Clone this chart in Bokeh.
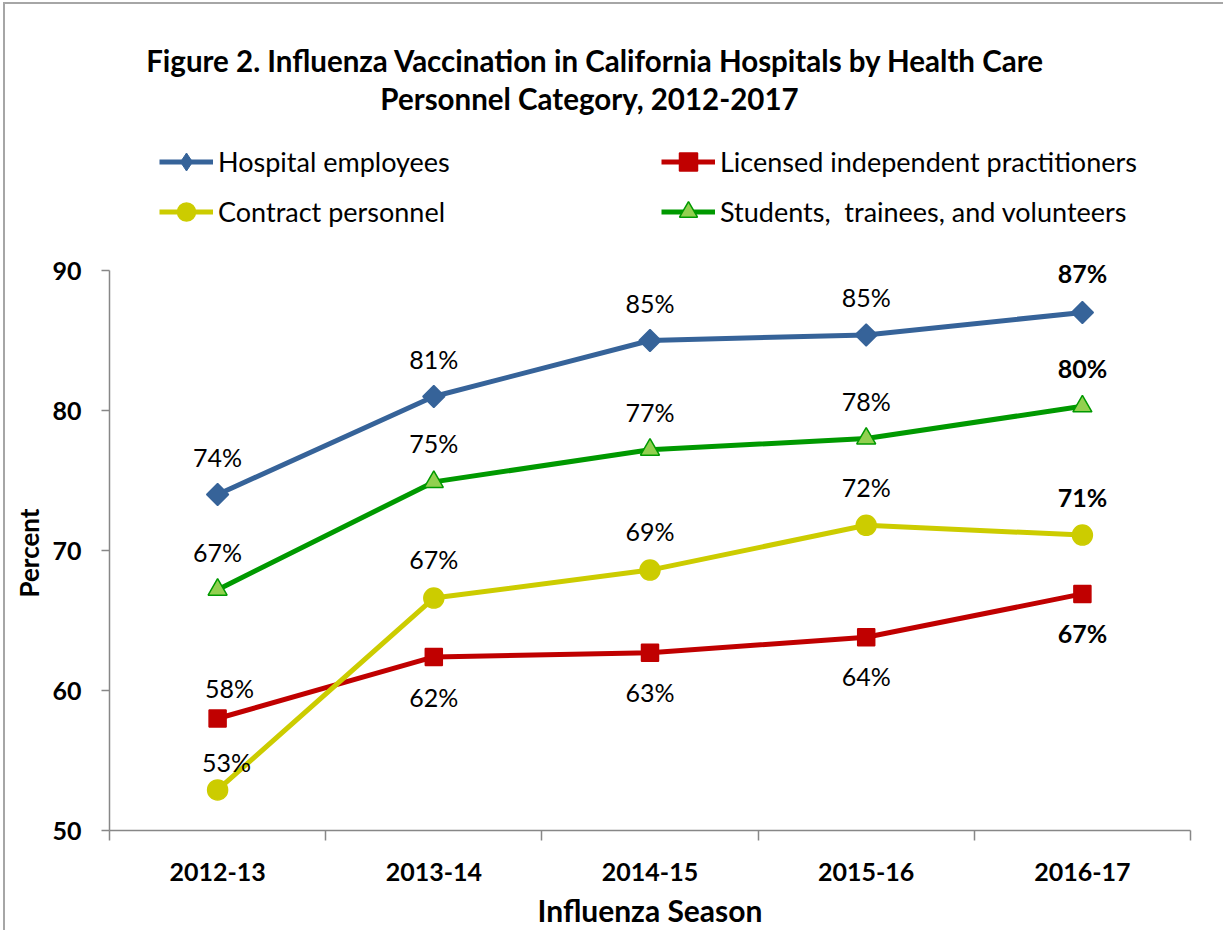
from bokeh.plotting import figure
from bokeh.models import (ColumnDataSource, LabelSet, Label, Legend, LegendItem,
                          FixedTicker, Range1d, Title)
from bokeh.core.properties import value
from bokeh.embed import file_html
from bokeh.resources import INLINE
import numpy as np

# ---- data ----
seasons = ["2012-13", "2013-14", "2014-15", "2015-16", "2016-17"]
hospital_employees = [74.0, 81.0, 85.0, 85.4, 87.0]
licensed_practitioners = [58.0, 62.4, 62.7, 63.8, 66.9]
contract_personnel = [52.9, 66.6, 68.6, 71.8, 71.1]
students_volunteers = [67.2, 74.9, 77.2, 78.0, 80.3]
series_names = ["Hospital employees", "Licensed independent practitioners",
                "Contract personnel", "Students,  trainees, and volunteers"]
y_ticks = [50, 60, 70, 80, 90]
title_lines = ["Figure 2. Influenza Vaccination in California Hospitals by Health Care",
               "Personnel Category, 2012-2017"]

# ---- styles ----
FONT = "Lato"
GRAY = "#878787"
colors = ["#366399", "#C00000", "#CCCC00", "#009900"]
fills = ["#366399", "#C00000", "#CCCC00", "#92D050"]
markers = ["square", "square", "circle", "triangle"]
angles = [np.pi / 4, 0, 0, 0]
sizes = [15.5, 17, 20, 19]
# label offsets in px (y: + = above)
label_y_offsets = [
    [38, 38, 38, 38, 40],
    [31, -40, -39, -39, -39],
    [28, 39, 39, 38, 38],
    [38, 39, 38, 38, 38],
]
label_x_offsets = [
    [0, 0, 0, 0, 0],
    [12, 0, 0, 0, 0],
    [9, 0, 0, 0, 0],
    [0, 0, 0, 0, 0],
]

xs = list(range(len(seasons)))
PX_PER_UNIT = 14.0
FRAME_TOP_PAD = 246  # px of frame above the 90 tick (room for title/legend)

p = figure(width=1220, height=928, output_backend="svg", toolbar_location=None,
           x_range=Range1d(-0.5, len(seasons) - 0.5),
           y_range=Range1d(y_ticks[0], y_ticks[-1] + FRAME_TOP_PAD / PX_PER_UNIT),
           min_border_left=103, min_border_right=35, min_border_top=20, min_border_bottom=102)
p.outline_line_color = None
p.xgrid.visible = False
p.ygrid.visible = False
p.title.visible = False
p.styles = {"border-left": "2px solid #a6a6a6", "border-top": "2px solid #a6a6a6",
            "margin-left": "3px", "margin-top": "2px"}

# axes
xa = p.xaxis[0]
xa.ticker = FixedTicker(ticks=xs, minor_ticks=[i - 0.5 for i in range(len(seasons) + 1)])
xa.major_label_overrides = {i: s for i, s in enumerate(seasons)}
xa.major_tick_out = 0
xa.major_tick_in = 0
xa.minor_tick_out = 10
xa.minor_tick_in = 0
xa.minor_tick_line_color = GRAY
xa.minor_tick_line_width = 1.5
xa.axis_line_color = GRAY
xa.axis_line_width = 1.5
xa.major_label_text_font = FONT
xa.major_label_text_font_style = "bold"
xa.major_label_text_font_size = "25px"
xa.major_label_text_color = "black"
xa.major_label_standoff = 22
xa.axis_label = "Influenza Season"
xa.axis_label_text_font = FONT
xa.axis_label_text_font_style = "bold"
xa.axis_label_text_font_size = "30px"
xa.axis_label_text_color = "black"
xa.axis_label_standoff = 8

ya = p.yaxis[0]
ya.ticker = FixedTicker(ticks=y_ticks)
ya.bounds = (y_ticks[0], y_ticks[-1])
ya.major_tick_out = 8
ya.major_tick_in = 0
ya.major_tick_line_color = GRAY
ya.major_tick_line_width = 1.5
ya.minor_tick_line_color = None
ya.axis_line_color = GRAY
ya.axis_line_width = 1.5
ya.major_label_text_font = FONT
ya.major_label_text_font_style = "bold"
ya.major_label_text_font_size = "25px"
ya.major_label_text_color = "black"
ya.major_label_standoff = 20

# y-axis title, placed along the 50-90 span
p.add_layout(Title(text="Percent", align="left", offset=233, vertical_align="bottom",
                   standoff=10, text_font=FONT, text_font_size="26px",
                   text_font_style="bold", text_color="black"), "left")

# series
all_values = [hospital_employees, licensed_practitioners, contract_personnel, students_volunteers]
items = []
for i, vals in enumerate(all_values):
    lr = p.line(xs, vals, line_color=colors[i], line_width=5)
    legend_marker = None
    if markers[i] == "square" and angles[i]:
        # diamond used for the legend swatch; sits under the rotated square
        legend_marker = p.scatter(xs, vals, marker="diamond", size=20,
                                  fill_color=fills[i], line_color=colors[i])
    sr = p.scatter(xs, vals, marker=markers[i], size=sizes[i], angle=angles[i],
                   fill_color=fills[i], line_color=colors[i], line_width=1.5)
    items.append(LegendItem(label=series_names[i], renderers=[lr, legend_marker or sr]))
    src = ColumnDataSource(dict(
        x=xs, y=vals,
        label=[f"{v:.0f}%" for v in vals],
        style=["normal"] * (len(vals) - 1) + ["bold"],
        yoff=label_y_offsets[i],
        xoff=label_x_offsets[i],
    ))
    p.add_layout(LabelSet(x="x", y="y", text="label", source=src,
                          x_offset="xoff", y_offset="yoff",
                          text_font_style="style", text_align="center",
                          text_baseline="middle", text_font=value(FONT),
                          text_font_size=value("25px"), text_color="black"))

# legends (two columns)
def make_legend(its, loc):
    return Legend(items=its, location=loc, orientation="vertical",
                  label_text_font=FONT, label_text_font_size="27px",
                  label_text_color="black",
                  glyph_width=54, glyph_height=45, label_height=45, spacing=5,
                  padding=0, margin=0, label_standoff=5,
                  border_line_color=None, background_fill_alpha=0)

p.add_layout(make_legend([items[0], items[2]], (50, 596)))
p.add_layout(make_legend([items[1], items[3]], (552, 596)))

# title
p.add_layout(Label(x=486, y=770, x_units="screen", y_units="screen", text=title_lines[0],
                   text_align="center", text_baseline="middle", text_font=FONT,
                   text_font_size="29.5px", text_font_style="bold", text_color="black"))
p.add_layout(Label(x=480, y=732, x_units="screen", y_units="screen", text=title_lines[1],
                   text_align="center", text_baseline="middle", text_font=FONT,
                   text_font_size="29.5px", text_font_style="bold", text_color="black"))

open("out.html", "w").write(file_html(p, INLINE))
